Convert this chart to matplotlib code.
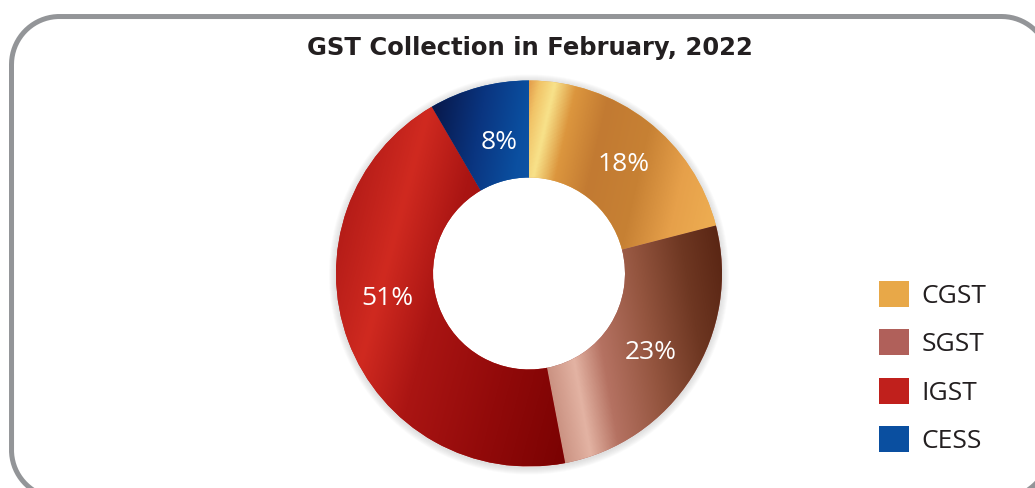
import numpy as np
import matplotlib.pyplot as plt
from matplotlib.colors import LinearSegmentedColormap
from matplotlib.patches import Patch, Circle

# slice sizes as drawn (share of the ring, in percent) and the printed labels
categories = ["CGST", "SGST", "IGST", "CESS"]
shares = [21.0, 26.0, 44.6, 8.4]
pct_labels = ["18%", "23%", "51%", "8%"]
# where the printed labels sit on the ring (degrees, radius in px)
label_angles = [49, -33, 190, 103]
label_radii = [144, 145, 144, 134]

W, H = 1035, 488
CX, CY = 529, H - 273.5
R_OUT, R_IN = 193, 96

# metallic look: gradient direction (deg) and colour stops per slice
gradients = {
    "CGST": (-13, [(0, "#E39C4A"), (0.05, "#F1C468"), (0.12, "#F8E28A"), (0.22, "#DC963E"),
                   (0.38, "#C27A32"), (0.6, "#C78134"), (0.8, "#E6A04A"), (1, "#EEAE52")]),
    "SGST": (10, [(0, "#C99080"), (0.15, "#E3B3A3"), (0.3, "#B57262"), (0.55, "#94553F"),
                  (0.8, "#6E3722"), (1, "#5A2614")]),
    "IGST": (-15, [(0, "#B41C18"), (0.2, "#D02A20"), (0.4, "#AA1513"), (0.7, "#920A0A"),
                   (1, "#7A0202")]),
    "CESS": (-10, [(0, "#08184A"), (0.4, "#0A3580"), (0.75, "#0B4FA0"), (1, "#1258A8")]),
}
legend_colors = ["#E8A848", "#B0605A", "#C0201C", "#0A4FA0"]

fig = plt.figure(figsize=(W / 100, H / 100), dpi=100)
ax = fig.add_axes([0, 0, 1, 1])

# soft halo around the ring
for i in range(7):
    ax.add_patch(Circle((CX, CY - 1), R_OUT + 1 + i, facecolor="#808080",
                        edgecolor="none", alpha=0.035, zorder=0.5))

wedges, _ = ax.pie(
    shares,
    startangle=90,
    counterclock=False,
    radius=R_OUT,
    center=(CX, CY),
    colors=legend_colors,
    wedgeprops=dict(width=R_OUT - R_IN, edgecolor="none"),
)
ax.add_patch(Circle((CX, CY), R_IN, facecolor="white", edgecolor="none", zorder=0.9))

# gradient fill clipped to each wedge
gx = np.linspace(CX - R_OUT, CX + R_OUT, 400)
gy = np.linspace(CY - R_OUT, CY + R_OUT, 400)
XX, YY = np.meshgrid(gx, gy)
for w, name in zip(wedges, categories):
    ang, stops = gradients[name]
    d = np.deg2rad(ang)
    t = (XX - CX) * np.cos(d) + (YY - CY) * np.sin(d)
    v = w.get_path().vertices
    tv = (v[:, 0] - CX) * np.cos(d) + (v[:, 1] - CY) * np.sin(d)
    t = np.clip((t - tv.min()) / (tv.max() - tv.min()), 0, 1)
    cmap = LinearSegmentedColormap.from_list(name, stops)
    im = ax.imshow(t, cmap=cmap, origin="lower", extent=(gx[0], gx[-1], gy[0], gy[-1]),
                   interpolation="bilinear", zorder=w.get_zorder() + 0.1)
    im.set_clip_path(w)

# percentage labels on the ring
for lab, a, r in zip(pct_labels, label_angles, label_radii):
    a = np.deg2rad(a)
    ax.text(CX + r * np.cos(a), CY + r * np.sin(a), lab,
            color="white", fontsize=19, family="Open Sans",
            ha="center", va="center", zorder=5)

ax.text(530, H - 48, "GST Collection in February, 2022", fontsize=17.5,
        fontweight="bold", family="DejaVu Sans", color="#231F20",
        ha="center", va="center")

# rounded frame (true circular corners), cut by the right and bottom edges
x0, x1, y0, y1, rc = 11.5, 1049.5, H - 498, H - 16.5, 48
pts = []
for (cx, cy, a0) in [(x1 - rc, y1 - rc, 0), (x0 + rc, y1 - rc, 90),
                     (x0 + rc, y0 + rc, 180), (x1 - rc, y0 + rc, 270)]:
    th = np.deg2rad(np.linspace(a0, a0 + 90, 40))
    pts.append(np.column_stack([cx + rc * np.cos(th), cy + rc * np.sin(th)]))
pts = np.vstack(pts + [pts[0][:1]])
ax.plot(pts[:, 0], pts[:, 1], color="#939598", linewidth=3.6, zorder=0,
        solid_joinstyle="round")

handles = [Patch(facecolor=c, edgecolor="none") for c in legend_colors]
leg = ax.legend(handles, categories, loc="upper left", bbox_to_anchor=(868 / W, 1 - 270 / H),
                frameon=False, handlelength=1.14, handleheight=1.14,
                labelspacing=0.78, handletextpad=0.5, borderaxespad=0,
                prop=dict(family="Open Sans", size=19))
for txt in leg.get_texts():
    txt.set_color("#231F20")

ax.set_xlim(0, W)
ax.set_ylim(0, H)
ax.set_aspect("equal")
ax.axis("off")

fig.savefig("out.png", dpi=100)
